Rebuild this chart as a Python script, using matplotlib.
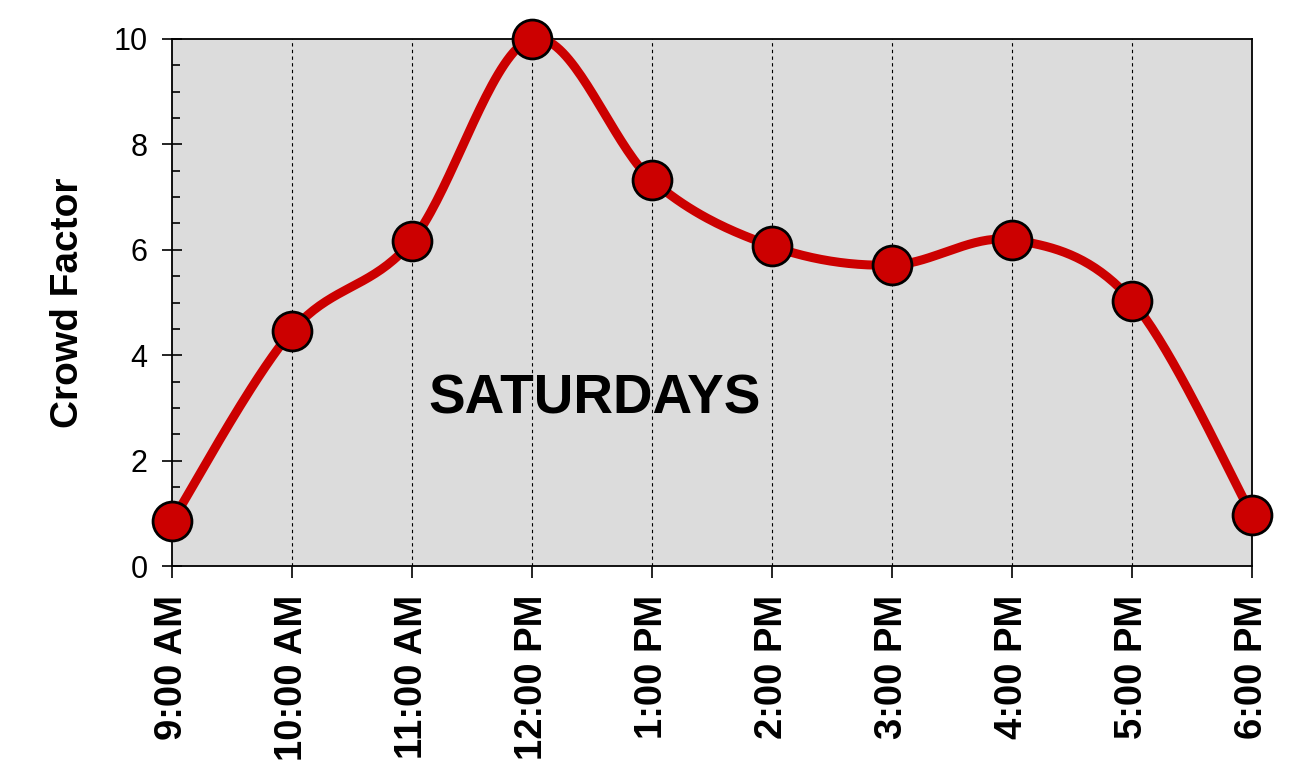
import matplotlib as mpl
mpl.use('Agg')
import matplotlib.pyplot as plt
from matplotlib.ticker import MultipleLocator
import numpy as np

# data
times = ['9:00 AM', '10:00 AM', '11:00 AM', '12:00 PM', '1:00 PM',
         '2:00 PM', '3:00 PM', '4:00 PM', '5:00 PM', '6:00 PM']
crowd = [0.85, 4.46, 6.17, 10.0, 7.32, 6.07, 5.71, 6.19, 5.03, 0.97]
title_text = 'SATURDAYS'

plt.rcParams['font.family'] = ['Liberation Sans', 'DejaVu Sans']


def smooth_curve(x, y, n=40):
    """Excel-like smoothed line: cubic Bezier through the points,
    control points from the neighbouring points (Catmull-Rom style)."""
    P = np.column_stack([x, y]).astype(float)
    P = np.vstack([P[0], P, P[-1]])
    out = []
    t = np.linspace(0, 1, n)[:, None]
    for i in range(1, len(P) - 2):
        p0, p3 = P[i], P[i + 1]
        c1 = p0 + (P[i + 1] - P[i - 1]) / 6.0
        c2 = p3 - (P[i + 2] - P[i]) / 6.0
        seg = ((1 - t) ** 3 * p0 + 3 * (1 - t) ** 2 * t * c1
               + 3 * (1 - t) * t ** 2 * c2 + t ** 3 * p3)
        out.append(seg if i == 1 else seg[1:])
    out = np.vstack(out)
    return out[:, 0], out[:, 1]


xpos = np.arange(len(times))
sx, sy = smooth_curve(xpos, crowd)

fig = plt.figure(figsize=(13.08, 7.83), dpi=100)
ax = fig.add_axes([0.1315, 0.2771, 0.8257, 0.6731])
ax.set_facecolor('#dcdcdc')

for xv in xpos[1:-1]:
    ax.axvline(xv, color='black', lw=0.8, ls=(0, (3, 3)), zorder=1)

ax.plot(sx, sy, color='#cc0000', lw=6.5, solid_capstyle='round', zorder=3,
        clip_on=False)
ax.plot(xpos, crowd, 'o', color='#cc0000', markersize=28,
        markeredgecolor='black', markeredgewidth=2, zorder=4, clip_on=False)

ax.text(3.52, 3.16, title_text, fontsize=39.5, fontweight='bold',
        ha='center', va='center', zorder=5)

ax.set_xlim(0, len(times) - 1)
ax.set_ylim(0, 10)
ax.set_xticks(xpos)
ax.set_xticklabels(times, rotation=90, fontsize=27.5, fontweight='bold')
ax.yaxis.set_major_locator(MultipleLocator(2))
ax.yaxis.set_minor_locator(MultipleLocator(0.5))
ax.tick_params(axis='y', which='major', direction='inout', length=15,
               width=1.2, labelsize=22, pad=10)
ax.tick_params(axis='y', which='minor', direction='in', length=5.5, width=1.2)
ax.tick_params(axis='x', which='major', direction='out', length=8.6,
               width=1.2, pad=12)
ax.set_ylabel('Crowd Factor', fontsize=28, fontweight='bold', labelpad=20)

for s in ax.spines.values():
    s.set_linewidth(1.3)
    s.set_zorder(2)

fig.savefig('out.png', dpi=100)
